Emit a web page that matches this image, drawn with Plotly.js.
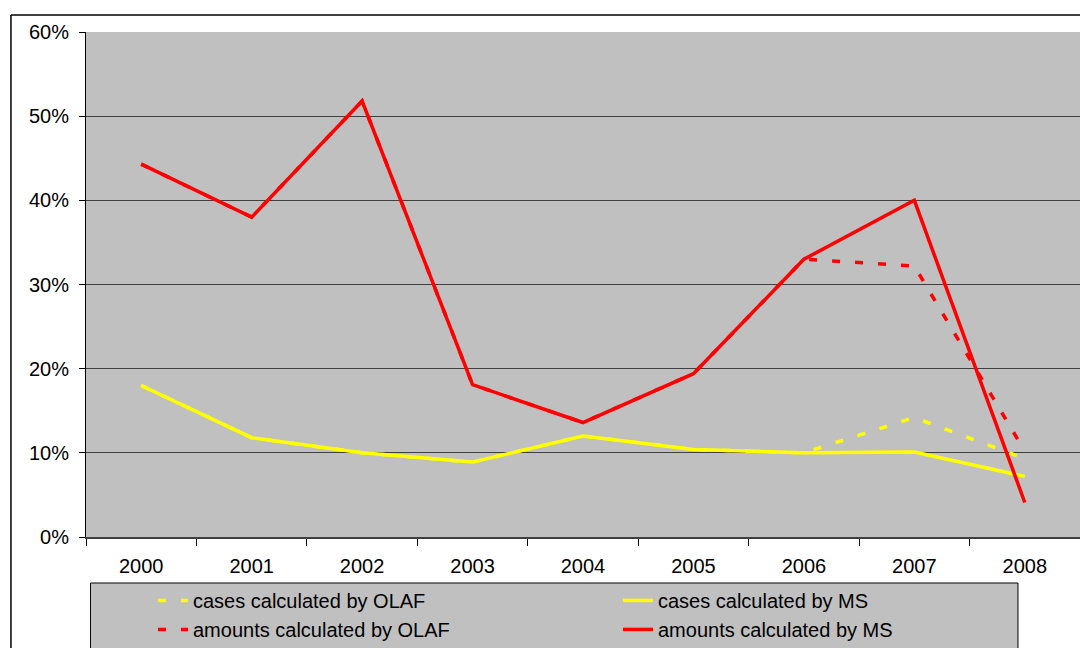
<!DOCTYPE html>
<html>
<head>
<meta charset="utf-8">
<script src="https://cdn.plot.ly/plotly-3.0.1.min.js"></script>
<style>html,body{margin:0;padding:0;background:#fff;}#chart{width:1080px;height:648px;}</style>
</head>
<body>
<div id="chart"></div>
<script>
const years = ['2000','2001','2002','2003','2004','2005','2006','2007','2008'];
const casesOLAF   = [18.0, 11.8, 10.0, 8.9, 12.0, 10.4, 10.0, 14.2, 9.3];
const casesMS     = [18.0, 11.8, 10.0, 8.9, 12.0, 10.4, 10.0, 10.1, 7.2];
const amountsOLAF = [44.3, 38.0, 51.8, 18.1, 13.6, 19.4, 33.0, 32.2, 10.2];
const amountsMS   = [44.3, 38.0, 51.8, 18.1, 13.6, 19.4, 33.0, 40.0, 4.1];
const seriesNames = ['cases calculated by OLAF','cases calculated by MS','amounts calculated by OLAF','amounts calculated by MS'];
const yTickVals = [0,10,20,30,40,50,60];
const yTickText = ['0%','10%','20%','30%','40%','50%','60%'];

const font = 'Arial, "Liberation Sans", sans-serif';
const traces = [
  {x: years, y: casesOLAF, name: seriesNames[0], mode: 'lines', line: {color: '#FFFF00', width: 3.5, dash: '8px,15px'}},
  {x: years, y: casesMS, name: seriesNames[1], mode: 'lines', line: {color: '#FFFF00', width: 3.5}},
  {x: years, y: amountsOLAF, name: seriesNames[2], mode: 'lines', line: {color: '#FF0000', width: 3.5, dash: '8px,15px'}},
  {x: years, y: amountsMS, name: seriesNames[3], mode: 'lines', line: {color: '#FF0000', width: 3.5}}
];
const layout = {
  width: 1080, height: 648,
  margin: {l: 86, r: 0, t: 32, b: 111, pad: 0, autoexpand: false},
  paper_bgcolor: '#FFFFFF',
  plot_bgcolor: '#C0C0C0',
  font: {family: font, size: 20, color: '#000'},
  showlegend: true,
  hovermode: false,
  xaxis: {
    type: 'category', range: [-0.5, 8.5],
    showgrid: false, zeroline: false,
    showline: true, linecolor: '#404040', linewidth: 2,
    ticks: 'outside', tickson: 'boundaries', ticklen: 7, tickcolor: '#000', tickwidth: 1,
    ticklabelstandoff: 10,
    tickfont: {family: font, size: 20, color: '#000'},
    automargin: false,
    fixedrange: true
  },
  yaxis: {
    range: [0, 60], tickmode: 'array', tickvals: yTickVals, ticktext: yTickText,
    showgrid: true, gridcolor: '#404040', gridwidth: 1,
    zeroline: false,
    showline: true, linecolor: '#000', linewidth: 1,
    ticks: 'outside', ticklen: 6, tickcolor: '#000',
    ticklabelstandoff: 6,
    tickfont: {family: font, size: 20, color: '#000'},
    automargin: false,
    fixedrange: true
  },
  legend: {
    orientation: 'h', x: 0.0674, xanchor: 'left', y: -0.087, yanchor: 'top',
    bgcolor: 'rgba(0,0,0,0)', borderwidth: 0,
    entrywidth: 420, entrywidthmode: 'pixels',
    font: {family: font, size: 20, color: '#000'},
    traceorder: 'normal'
  },
  shapes: [
    {type: 'rect', xref: 'paper', yref: 'paper', layer: 'above', x0: 0.0045, x1: 0.9376, y0: -0.0911, y1: -0.3, fillcolor: '#C0C0C0', line: {color: '#000', width: 1}},
    {type: 'line', xref: 'paper', yref: 'paper', x0: -0.0755, x1: -0.0755, y0: 1.0337, y1: -0.3, line: {color: '#000', width: 1.5}},
    {type: 'line', xref: 'paper', yref: 'paper', x0: -0.0755, x1: 1.02, y0: 1.0337, y1: 1.0337, line: {color: '#000', width: 1.5}}
  ]
};
Plotly.newPlot('chart', traces, layout, {displayModeBar: false, staticPlot: true});
</script>
</body>
</html>
